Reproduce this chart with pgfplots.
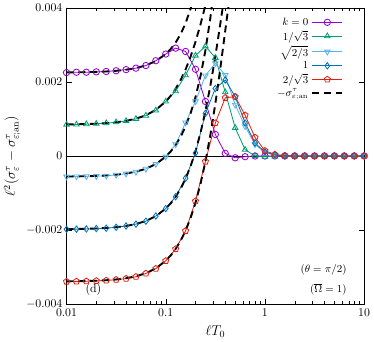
\documentclass[border=0pt]{standalone}
\usepackage{pgfplots}
\usepackage{pgfplotstable}
\pgfplotsset{compat=1.18}
\definecolor{cA}{HTML}{9400D3}
\definecolor{cB}{HTML}{009E73}
\definecolor{cC}{HTML}{56B4E9}
\definecolor{cD}{HTML}{0072B2}
\definecolor{cE}{HTML}{E51E10}
% values in units of 1e-3
\pgfplotstableread{
x        a      b      c      d      e
0.01     2.25   0.845  -0.56  -1.98  -3.39
0.012589 2.26   0.85   -0.555 -1.975 -3.385
0.015849 2.26   0.86   -0.55  -1.97  -3.38
0.019953 2.27   0.87   -0.545 -1.96  -3.37
0.025119 2.28   0.885  -0.535 -1.95  -3.36
0.031623 2.30   0.91   -0.51  -1.925 -3.34
0.039811 2.33   0.945  -0.48  -1.89  -3.31
0.050119 2.37   1.0    -0.43  -1.84  -3.26
0.063096 2.44   1.09   -0.35  -1.76  -3.17
0.079433 2.57   1.23   -0.22  -1.62  -3.04
0.1      2.75   1.47   -0.02  -1.42  -2.83
0.12589  2.91   1.75   0.31   -1.1   -2.51
0.15849  2.82   2.18   0.9    -0.6   -2.02
0.19953  2.34   2.71   1.47   0.08   -1.22
0.25119  1.47   2.96   2.17   1.15   -0.15
0.31623  0.58   2.65   2.5    1.82   0.89
0.39811  0.07   1.72   2.18   2.05   1.57
0.50119  -0.05  0.76   1.38   1.6    1.6
0.63096  -0.02  0.17   0.8    0.89   1.1
0.79433  0      0.0    0.31   0.35   0.5
1        0      -0.02  0.09   0.11   0.14
1.2589   0      -0.01  0.02   0.03   0.04
1.5849   0      0      0      0      0.01
1.9953   0      0      0      0      0
2.5119   0      0      0      0      0
3.1623   0      0      0      0      0
3.9811   0      0      0      0      0
5.0119   0      0      0      0      0
6.3096   0      0      0      0      0
7.9433   0      0      0      0      0
10       0      0      0      0      0
}\data
\begin{document}
\begin{tikzpicture}
\begin{axis}[
  scale only axis, width=251bp, height=250bp,
  xmode=log, xmin=0.01, xmax=10, ymin=-4, ymax=4,
  xtick={0.01,0.1,1,10}, xticklabels={0.01,0.1,1,10},
  ytick={-4,-2,0,2,4},
  yticklabels={$-0.004$,$-0.002$,$0$,$0.002$,$0.004$},
  tick align=inside, tick pos=both,
  every tick/.style={black, thin},
  xlabel={$\ell T_0$},
  ylabel={$\ell^2(\sigma^\tau_\varepsilon-\sigma^\tau_{\varepsilon;\mathrm{an}})$},
  label style={font=\large},
  xlabel style={yshift=-1pt},
  ylabel style={yshift=-2pt},
  legend cell align=right, legend plot pos=right,
  legend style={draw=none, fill=none, font=\small, at={(0.935,0.975)}, anchor=north east, row sep=1pt, inner sep=1pt, nodes={inner ysep=1pt, inner xsep=2.5pt}},
  legend image code/.code={\draw[mark repeat=2,mark phase=2] plot coordinates {(0cm,0cm) (0.45cm,0cm) (0.9cm,0cm)};},
  every axis plot/.append style={line width=0.7pt, mark size=2.7pt, mark options={solid, line width=0.7pt, fill=white, fill opacity=0}},
]
\addplot[black, thin, forget plot] coordinates {(0.01,0) (10,0)};
\addplot[cA, mark=o] table[x=x,y=a] {\data};
\addlegendentry{$k=0$}
\addplot[cB, mark=triangle] table[x=x,y=b] {\data};
\addlegendentry{$1/\sqrt{3}$}
\addplot[cC, mark=triangle, mark options={rotate=180}] table[x=x,y=c] {\data};
\addlegendentry{$\sqrt{2/3}$}
\addplot[cD, mark=diamond] table[x=x,y=d] {\data};
\addlegendentry{$1$}
\addplot[cE, mark=pentagon] table[x=x,y=e] {\data};
\addlegendentry{$2/\sqrt{3}$}
\addplot[black, line width=1.6pt, dash pattern=on 6pt off 4pt] coordinates {
(0.01,2.255) (0.012589,2.258) (0.015849,2.262) (0.019953,2.269) (0.025119,2.280)
(0.031623,2.298) (0.039811,2.327) (0.050119,2.372) (0.063096,2.444) (0.079433,2.561)
(0.1,2.750) (0.1122,2.886) (0.12589,3.061) (0.14125,3.287) (0.15849,3.582)
(0.17783,3.968) (0.19953,4.478)};
\addlegendentry{$-\sigma^\tau_{\varepsilon;\mathrm{an}}$}
\addplot[black, line width=1.6pt, dash pattern=on 6pt off 4pt, forget plot] coordinates {
(0.01,0.851) (0.012589,0.855) (0.015849,0.861) (0.019953,0.871) (0.025119,0.886)
(0.031623,0.909) (0.039811,0.947) (0.050119,1.006) (0.063096,1.099) (0.079433,1.244)
(0.1,1.470) (0.1122,1.624) (0.12589,1.815) (0.14125,2.049) (0.15849,2.333)
(0.17783,2.674) (0.19953,3.078) (0.22387,3.545) (0.25119,4.069)};
\addplot[black, line width=1.6pt, dash pattern=on 6pt off 4pt, forget plot] coordinates {
(0.01,-0.555) (0.012589,-0.551) (0.015849,-0.546) (0.019953,-0.539) (0.025119,-0.526)
(0.031623,-0.506) (0.039811,-0.474) (0.050119,-0.424) (0.063096,-0.345) (0.079433,-0.219)
(0.1,-0.020) (0.1122,0.120) (0.12589,0.296) (0.14125,0.517) (0.15849,0.796)
(0.17783,1.148) (0.19953,1.590) (0.22387,2.146) (0.25119,2.847) (0.28184,3.729) (0.31623,4.84)};
\addplot[black, line width=1.6pt, dash pattern=on 6pt off 4pt, forget plot] coordinates {
(0.01,-1.974) (0.012589,-1.971) (0.015849,-1.966) (0.019953,-1.957) (0.025119,-1.944)
(0.031623,-1.923) (0.039811,-1.890) (0.050119,-1.837) (0.063096,-1.755) (0.079433,-1.624)
(0.1,-1.420) (0.1122,-1.279) (0.12589,-1.102) (0.14125,-0.884) (0.15849,-0.613)
(0.17783,-0.280) (0.19953,0.126) (0.22387,0.618) (0.25119,1.207) (0.28184,1.898)
(0.31623,2.69) (0.35481,3.563) (0.39811,4.467)};
\addplot[black, line width=1.6pt, dash pattern=on 6pt off 4pt, forget plot] coordinates {
(0.01,-3.384) (0.012589,-3.381) (0.015849,-3.376) (0.019953,-3.367) (0.025119,-3.354)
(0.031623,-3.333) (0.039811,-3.300) (0.050119,-3.247) (0.063096,-3.165) (0.079433,-3.034)
(0.1,-2.829) (0.1122,-2.687) (0.12589,-2.509) (0.14125,-2.289) (0.15849,-2.015)
(0.17783,-1.678) (0.19953,-1.264) (0.22387,-0.759) (0.25119,-0.152) (0.28184,0.570)
(0.31623,1.41) (0.35481,2.360) (0.39811,3.383) (0.44668,4.40)};
\node[anchor=west] at (rel axis cs:0.05,0.05) {(d)};
\node[anchor=east, font=\small] at (rel axis cs:0.955,0.117) {$(\theta=\pi/2)$};
\node[anchor=east, font=\small] at (rel axis cs:0.955,0.05) {$(\overline{\Omega}=1)$};
\end{axis}
\end{tikzpicture}
\end{document}
